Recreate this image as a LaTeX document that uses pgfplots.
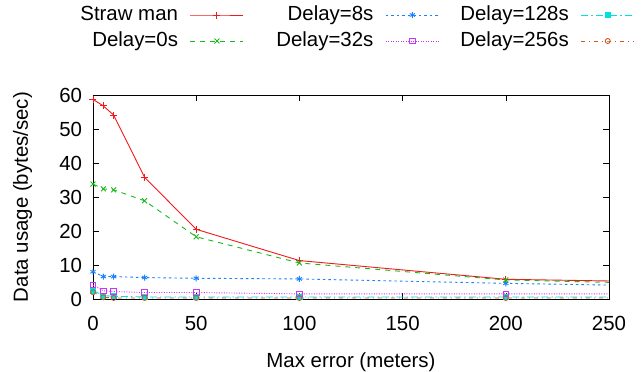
\documentclass[border=0pt]{standalone}
\usepackage{pgfplots}
\pgfplotsset{compat=1.18}
\usepackage{fontspec}
\setmainfont{Liberation Sans}
\definecolor{cSM}{rgb}{0.95,0.1,0.1}
\definecolor{cD0}{rgb}{0.1,0.72,0.1}
\definecolor{cD8}{rgb}{0.1,0.5,1}
\definecolor{cD32}{rgb}{0.78,0.2,1}
\definecolor{cD128}{rgb}{0,0.88,0.88}
\definecolor{cD256}{rgb}{0.8,0.35,0.15}
\newcommand{\lt}[1]{\makebox[141.5bp][r]{\fontsize{20.5}{24}\selectfont#1\hspace*{12bp}}}
\begin{document}
\fontsize{20.5}{24}\selectfont
\begin{tikzpicture}
\begin{axis}[
  scale only axis, width=516bp, height=204bp,
  xmin=0, xmax=250, ymin=0, ymax=60,
  xtick={0,50,...,250}, ytick={0,10,...,60},
  /pgf/number format/assume math mode=true,
  major tick length=6bp,
  tick style={black, line width=0.6bp},
  axis line style={line width=0.9bp},
  xlabel={Max error (meters)},
  ylabel={Data usage (bytes/sec)},
  every tick label/.append style={font=\fontsize{20.5}{24}\selectfont},
  xticklabel style={yshift=-10bp},
  yticklabel style={xshift=-4bp},
  label style={font=\fontsize{20.5}{24}\selectfont},
  xlabel style={at={(axis description cs:0.5,0)}, anchor=base, yshift=-68bp},
  ylabel style={at={(axis description cs:-0.126,0.5)}, anchor=base, rotate=0},
  legend columns=3,
  legend plot pos=right,
  legend style={draw=none, fill=none, at={(axis description cs:0,1)}, anchor=north west,
    xshift=-44.5bp, yshift=90bp, inner sep=0pt, outer sep=0pt,
    nodes={inner sep=0pt, outer sep=0pt, text height=15bp, text depth=5bp}, column sep=0pt, row sep=6bp,
    font=\fontsize{20.5}{24}\selectfont},
  legend image code/.code={
    \draw[#1, mark indices={2}] plot coordinates {(0bp,0bp) (26.5bp,0bp) (53bp,0bp)};},
  every axis plot/.append style={line width=0.9bp},
]
\addplot[cSM, solid, mark=+, mark size=3.5bp, mark indices={1,...,7}] coordinates {
 (0,58.7) (5,56.8) (10,54.1) (25,35.8) (50,20.5) (100,11.3) (200,5.8) (250,5.3)};
\addlegendentry{\lt{Straw man}}
\addplot[cD8, dash pattern=on 2.5bp off 3bp, mark=asterisk, mark size=3bp, mark options={solid}, mark indices={1,...,7}] coordinates {
 (0,8.0) (5,6.6) (10,6.6) (25,6.3) (50,6.1) (100,5.9) (200,4.6) (250,4.1)};
\addlegendentry{\lt{Delay=8s}}
\addplot[cD128, dash pattern=on 7bp off 3bp on 1.5bp off 3bp, mark=square*, mark size=2.6bp, mark options={solid}, mark indices={1,...,7}] coordinates {
 (0,2.5) (5,1.0) (10,0.8) (25,0.6) (50,0.6) (100,0.6) (200,0.6) (250,0.6)};
\addlegendentry{\lt{Delay=128s}}
\addplot[cD0, dash pattern=on 5bp off 5bp, mark=x, mark size=3.5bp, mark options={solid}, mark indices={1,...,7}] coordinates {
 (0,33.8) (5,32.4) (10,32.1) (25,28.9) (50,18.3) (100,10.6) (200,5.6) (250,4.9)};
\addlegendentry{\lt{Delay=0s}}
\addplot[cD32, dash pattern=on 1bp off 1.5bp, mark=square, mark size=2.8bp, mark options={solid}, mark indices={1,...,7}] coordinates {
 (0,4.1) (5,2.4) (10,2.2) (25,1.9) (50,1.9) (100,1.5) (200,1.5) (250,1.5)};
\addlegendentry{\lt{Delay=32s}}
\addplot[cD256, dash pattern=on 4bp off 4bp on 1bp off 4bp, mark=o, mark size=2.5bp, mark options={solid}, mark indices={1,...,7}] coordinates {
 (0,2.0) (5,0.5) (10,0.3) (25,0.3) (50,0.3) (100,0.3) (200,0.3) (250,0.3)};
\addlegendentry{\lt{Delay=256s}}
\end{axis}
\pgfresetboundingbox
\path[use as bounding box] (current axis.south west) ++(-93bp,-73bp) rectangle ++(644bp,372bp);
\end{tikzpicture}
\end{document}
